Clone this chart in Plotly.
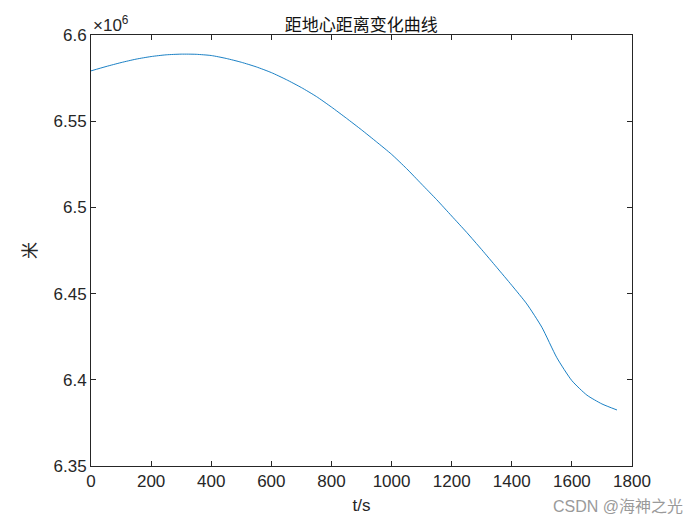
import plotly.graph_objects as go

# Time (s) and distance from Earth's centre (m)
t_s = [0, 50, 100, 150, 200, 250, 300, 350, 400, 450, 500, 550, 600, 650, 700,
       750, 800, 850, 900, 950, 1000, 1050, 1100, 1150, 1200, 1250, 1300, 1350,
       1400, 1450, 1500, 1550, 1600, 1650, 1700, 1750]
dist_e6 = [6.5792, 6.5817, 6.5840, 6.5860, 6.5875, 6.5885, 6.5889, 6.5888, 6.5881,
           6.5864, 6.5842, 6.5815, 6.5782, 6.5741, 6.5695, 6.5643, 6.5582, 6.5517,
           6.5450, 6.5380, 6.5308, 6.5225, 6.5135, 6.5045, 6.4950, 6.4855, 6.4755,
           6.4652, 6.4548, 6.4440, 6.4305, 6.4128, 6.3995, 6.3911, 6.3860, 6.3825]
dist_m = [v * 1e6 for v in dist_e6]

x_ticks = [0, 200, 400, 600, 800, 1000, 1200, 1400, 1600, 1800]
y_tick_labels = ["6.35", "6.4", "6.45", "6.5", "6.55", "6.6"]
y_ticks = [float(s) * 1e6 for s in y_tick_labels]

title_text = "距地心距离变化曲线"
x_label = "t/s"
y_label = "米"
watermark = "CSDN @海神之光"

axis_color = "#262626"
tick_font = dict(family="Liberation Sans, Arial, sans-serif", size=17, color=axis_color)

fig = go.Figure()
fig.add_trace(go.Scatter(x=t_s, y=dist_m, mode="lines",
                         line=dict(color="#0072BD", width=0.9, shape="spline", smoothing=0.6),
                         showlegend=False))

fig.update_layout(
    width=700, height=525,
    margin=dict(l=91, r=68, t=35, b=59),
    paper_bgcolor="white", plot_bgcolor="white",
    title=dict(text=title_text, x=0.5161, xanchor="center", y=0.953, yanchor="middle",
               font=dict(family="Noto Sans CJK SC", size=17, color="#111111")),
    xaxis=dict(range=[0, 1800], tickvals=x_ticks, ticktext=[str(v) for v in x_ticks],
               ticks="inside", ticklen=5, tickcolor=axis_color, showline=True,
               linecolor=axis_color, linewidth=1, mirror="ticks", showgrid=False,
               zeroline=False, tickfont=tick_font,
               title=dict(text=x_label, standoff=8,
                          font=dict(family="Liberation Sans, Arial, sans-serif", size=17, color=axis_color))),
    yaxis=dict(range=[6.35e6, 6.6e6], tickvals=y_ticks, ticktext=y_tick_labels,
               ticks="inside", ticklen=5, tickcolor=axis_color, showline=True,
               linecolor=axis_color, linewidth=1, mirror="ticks", showgrid=False,
               zeroline=False, tickfont=tick_font,
               title=dict(text=y_label, standoff=12,
                          font=dict(family="Noto Sans CJK SC", size=17, color=axis_color))),
    annotations=[
        dict(text="×10<sup>6</sup>", x=0, y=1, xref="paper", yref="paper",
             xanchor="left", yanchor="bottom", showarrow=False, yshift=-2,
             font=dict(family="Liberation Sans, Arial, sans-serif", size=17, color=axis_color)),
        dict(text=watermark, x=1, y=0, xref="paper", yref="paper",
             showarrow=False, font=dict(family="Liberation Sans, Noto Sans CJK SC", size=16, color="#9a9a9a")),
    ],
)
# place watermark in pixel coordinates converted to paper fraction
pw, ph = 700 - 91 - 68, 525 - 35 - 59
fig.layout.annotations[1].update(x=(685 - 91) / pw, y=(525 - 506 - 59) / ph,
                                 xanchor="right", yanchor="middle")

fig.write_html("out.html")
